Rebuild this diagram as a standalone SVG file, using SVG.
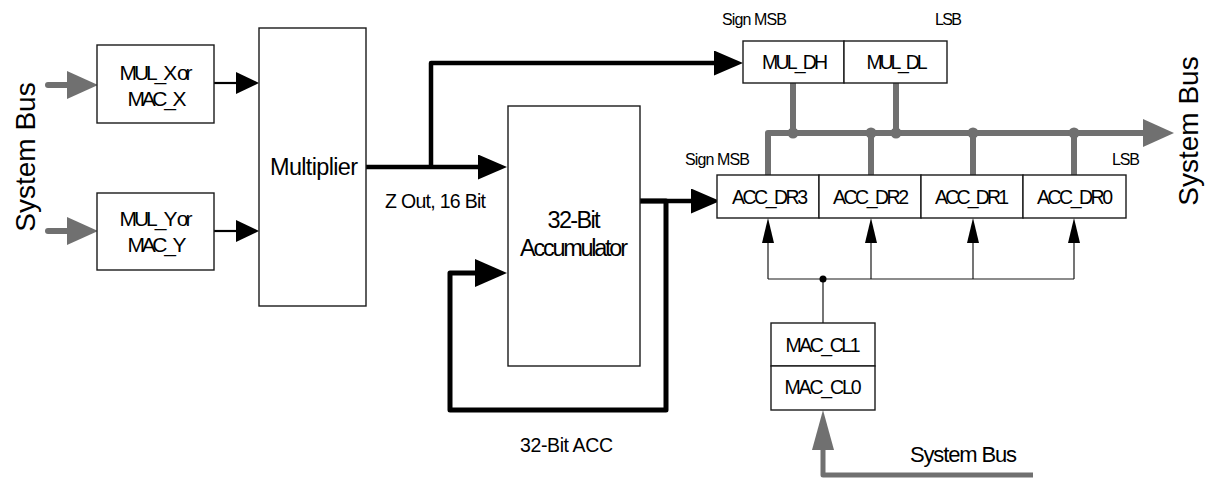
<svg xmlns="http://www.w3.org/2000/svg" width="1216" height="478" viewBox="0 0 1216 478">
<style>
text{font-family:"Liberation Sans",Arial,sans-serif;fill:#000;}
.box{fill:#fff;stroke:#1a1a1a;stroke-width:1.4;}
.t18{font-size:19.5px;text-anchor:middle;}
.t20{font-size:21px;text-anchor:middle;}
.t22{font-size:23.5px;text-anchor:middle;}
.t15{font-size:16px;}
.sys{font-size:28px;text-anchor:middle;}
.blk{fill:none;stroke:#000;stroke-linejoin:round;}
.gry{fill:none;stroke:#707070;stroke-linejoin:round;}
.thin{fill:none;stroke:#1a1a1a;stroke-width:1.2;}
</style>
<defs>
<marker id="ahB" markerUnits="userSpaceOnUse" markerWidth="30" markerHeight="26" refX="0" refY="12.5" orient="auto"><path d="M0,0 L29,12.5 L0,25 z" fill="#000"/></marker>
<marker id="ahBL" markerUnits="userSpaceOnUse" markerWidth="34" markerHeight="30" refX="0" refY="14" orient="auto"><path d="M0,0 L32,14 L0,28 z" fill="#000"/></marker>
<marker id="ahT" markerUnits="userSpaceOnUse" markerWidth="24" markerHeight="22" refX="0" refY="11" orient="auto"><path d="M0,0 L23,11 L0,22 z" fill="#000"/></marker>
<marker id="ahS" markerUnits="userSpaceOnUse" markerWidth="26" markerHeight="12" refX="0" refY="6" orient="auto"><path d="M0,0 L25,6 L0,12 z" fill="#000"/></marker>
<marker id="ahG" markerUnits="userSpaceOnUse" markerWidth="33" markerHeight="30" refX="0" refY="14" orient="auto"><path d="M0,0 L31,14 L0,28 z" fill="#707070"/></marker>
<marker id="ahGT" markerUnits="userSpaceOnUse" markerWidth="40" markerHeight="24" refX="0" refY="11" orient="auto"><path d="M0,0 L40,11 L0,22 z" fill="#707070"/></marker>
</defs>

<g id="connectors">
<path class="gry" d="M48,85 H67" stroke-width="6" stroke-linecap="round" marker-end="url(#ahG)"/>
<path class="gry" d="M48,231 H67" stroke-width="6" stroke-linecap="round" marker-end="url(#ahG)"/>
<path class="blk" d="M214,83 H236" stroke-width="2.2" marker-end="url(#ahT)"/>
<path class="blk" d="M214,231 H236" stroke-width="2.2" marker-end="url(#ahT)"/>
<path class="blk" d="M366,167 H478" stroke-width="4.5" marker-end="url(#ahB)"/>
<path class="blk" d="M431,167 V63 H714" stroke-width="4.5" marker-end="url(#ahB)"/>
<path class="blk" d="M640,201 H691" stroke-width="4.5" marker-end="url(#ahB)"/>
<path class="blk" d="M640,201 H666 V410 H450 V273 H475" stroke-width="5" marker-end="url(#ahBL)"/>
<path class="gry" d="M768,175 V133 H1143" stroke-width="6" marker-end="url(#ahG)"/>
<path class="gry" d="M793,83 V133 M896,83 V133 M871,133 V175 M973,133 V175 M1074,133 V175" stroke-width="6"/>
<g fill="#707070">
<circle cx="793" cy="133" r="5.5"/><circle cx="871" cy="133" r="5.5"/><circle cx="896" cy="133" r="5.5"/><circle cx="973" cy="133" r="5.5"/><circle cx="1074" cy="133" r="5.5"/>
</g>
<path class="thin" d="M768,279 H1074 M823,279 V323"/>
<path class="thin" d="M768,279 V243" marker-end="url(#ahS)"/>
<path class="thin" d="M871,279 V243" marker-end="url(#ahS)"/>
<path class="thin" d="M973,279 V243" marker-end="url(#ahS)"/>
<path class="thin" d="M1074,279 V243" marker-end="url(#ahS)"/>
<circle cx="823" cy="279" r="3.5" fill="#000"/>
<path class="gry" d="M1033,475 H823 V450" stroke-width="5" marker-end="url(#ahGT)"/>
</g>

<g id="node-mulx">
<rect class="box" x="97" y="45" width="117" height="78"/>
<text class="t20" x="156" y="80" textLength="73" lengthAdjust="spacing">MUL_X or</text>
<text class="t20" x="157" y="106" textLength="59" lengthAdjust="spacing">MAC_X</text>
</g>
<g id="node-muly">
<rect class="box" x="97" y="193" width="117" height="77"/>
<text class="t20" x="156" y="226" textLength="73" lengthAdjust="spacing">MUL_Y or</text>
<text class="t20" x="157" y="252" textLength="59" lengthAdjust="spacing">MAC_Y</text>
</g>
<g id="node-multiplier">
<rect class="box" x="259" y="28" width="107" height="278"/>
<text class="t22" x="314" y="175" textLength="88" lengthAdjust="spacing">Multiplier</text>
</g>
<g id="node-accumulator">
<rect class="box" x="508" y="106" width="132" height="260"/>
<text class="t22" x="574" y="228" textLength="53" lengthAdjust="spacing">32-Bit</text>
<text class="t22" x="574" y="256" textLength="108" lengthAdjust="spacing">Accumulator</text>
</g>
<g id="node-mul-dh">
<rect class="box" x="743" y="41" width="101" height="42"/>
<text class="t18" x="795" y="69" textLength="66" lengthAdjust="spacing">MUL_DH</text>
</g>
<g id="node-mul-dl">
<rect class="box" x="844" y="41" width="103" height="42"/>
<text class="t18" x="897" y="69" textLength="61" lengthAdjust="spacing">MUL_DL</text>
</g>
<g id="node-acc-dr3">
<rect class="box" x="717" y="175" width="102" height="43"/>
<text class="t18" x="770" y="204" textLength="76" lengthAdjust="spacing">ACC_DR3</text>
</g>
<g id="node-acc-dr2">
<rect class="box" x="819" y="175" width="102" height="43"/>
<text class="t18" x="871" y="204" textLength="76" lengthAdjust="spacing">ACC_DR2</text>
</g>
<g id="node-acc-dr1">
<rect class="box" x="921" y="175" width="102" height="43"/>
<text class="t18" x="972" y="204" textLength="74" lengthAdjust="spacing">ACC_DR1</text>
</g>
<g id="node-acc-dr0">
<rect class="box" x="1023" y="175" width="103" height="43"/>
<text class="t18" x="1075" y="204" textLength="76" lengthAdjust="spacing">ACC_DR0</text>
</g>
<g id="node-mac-cl1">
<rect class="box" x="771" y="323" width="104" height="43"/>
<text class="t18" x="823" y="352" textLength="75" lengthAdjust="spacing">MAC_CL1</text>
</g>
<g id="node-mac-cl0">
<rect class="box" x="771" y="366" width="104" height="44"/>
<text class="t18" x="823" y="394" textLength="77" lengthAdjust="spacing">MAC_CL0</text>
</g>

<g id="labels">
<text class="sys" transform="translate(35,157) rotate(-90)">System Bus</text>
<text class="sys" transform="translate(1198,131) rotate(-90)">System Bus</text>
<text style="font-size:22px" x="910" y="462" textLength="107" lengthAdjust="spacing">System Bus</text>
<text style="font-size:19.5px" x="385" y="208" textLength="101" lengthAdjust="spacing">Z Out, 16 Bit</text>
<text style="font-size:19.5px" x="520" y="452" textLength="93" lengthAdjust="spacing">32-Bit ACC</text>
<text class="t15" x="722" y="25" textLength="65" lengthAdjust="spacing">Sign MSB</text>
<text class="t15" x="935" y="25" textLength="27" lengthAdjust="spacing">LSB</text>
<text class="t15" x="685" y="165" textLength="65" lengthAdjust="spacing">Sign MSB</text>
<text class="t15" x="1112" y="165" textLength="28" lengthAdjust="spacing">LSB</text>
</g>
</svg>
